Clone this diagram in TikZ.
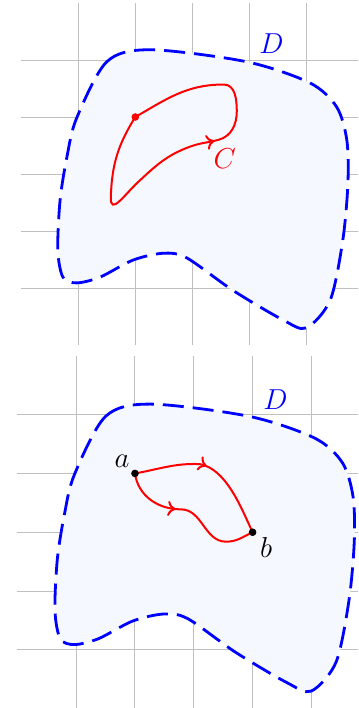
\documentclass[tikz,border=0pt]{standalone}
\usepackage{amsmath}
\usetikzlibrary{arrows.meta,decorations.markings}
\definecolor{regionblue}{RGB}{245,249,255}
\definecolor{gridgray}{RGB}{192,192,192}
\tikzset{
  rejilla/.style={
    gridgray,
    line width=0.5pt
  },
  region/.style={
    blue,
    fill=regionblue,
    line width=1.4pt,
    dash pattern=on 10.5pt off 4.5pt
  },
  curva/.style={
    red,
    line width=1pt
  },
  flecha/.style={
    postaction={decorate},
    decoration={markings,
      mark=at position #1 with {\arrow{To[length=4pt,width=7.5pt]}}}
  },
  punto/.style={
    circle,
    fill,
    inner sep=0pt,
    minimum size=3.8pt
  },
  etiqueta/.style={
    font=\Large,
    inner sep=1pt
  }
}

\begin{document}
\begin{tikzpicture}
\clip (0,0) rectangle (6.281,12.421);
% curva cerrada C
\begin{scope}[shift={(0.374,6.368)}]
\foreach \i in {1,...,5} {
  \draw[rejilla] (\i,0) -- (\i,6);
  \draw[rejilla] (0,\i) -- (6,\i);
}
\draw[region] plot[smooth cycle] coordinates {(0.97,3.98) (1.5,4.97) (2.26,5.18) (3.95,4.97) (5.06,4.6) (5.53,4.18) (5.71,3.6) (5.73,2.84) (5.64,1.84) (5.42,0.79) (5.0,0.3) (4.59,0.44) (3.71,0.96) (2.9,1.53) (2.49,1.61) (1.96,1.49) (1.38,1.19) (0.97,1.09) (0.73,1.19) (0.64,1.67) (0.68,2.54) (0.8,3.3)};
\coordinate (p) at (2,4);
\draw[curva, flecha=0.56] (p) to[out=-122,in=88] (1.57,2.6)
  to[out=-92,in=-137,looseness=1.6] (2.05,2.86)
  to[out=43,in=200] (2.96,3.48)
  to[out=20,in=195] (3.46,3.6)
  to[out=15,in=-90] (3.78,4.1)
  to[out=90,in=0] (3.55,4.57)
  to[out=180,in=30] (p);
\node[punto, red] (pp) at (p) {};
\node[etiqueta, red] (c) at (3.57,3.27) {$C$};
\node[etiqueta, blue] (d1) at (4.39,5.29) {$D$};
\end{scope}
% dos caminos de a a b
\begin{scope}[shift={(0.304,-0.012)}, scale=1.0316]
\foreach \i in {1,...,5} {
  \draw[rejilla] (\i,0) -- (\i,6);
  \draw[rejilla] (0,\i) -- (6,\i);
}
\draw[region] plot[smooth cycle] coordinates {(0.97,3.98) (1.5,4.97) (2.26,5.18) (3.95,4.97) (5.06,4.6) (5.53,4.18) (5.71,3.6) (5.73,2.84) (5.64,1.84) (5.42,0.79) (5.0,0.3) (4.59,0.44) (3.71,0.96) (2.9,1.53) (2.49,1.61) (1.96,1.49) (1.38,1.19) (0.97,1.09) (0.73,1.19) (0.64,1.67) (0.68,2.54) (0.8,3.3)};
\coordinate (a) at (2,4);
\coordinate (b) at (4,3);
\draw[curva, flecha=0.47] (a) to[out=10,in=178] (3.1,4.16)
  to[out=-10,in=115,looseness=0.8] (b);
\draw[curva, flecha=0.39] (a) to[out=-82,in=180] (2.78,3.39)
  to[out=0,in=180] (3.55,2.84)
  to[out=0,in=205] (b);
\node[punto] (pa) at (a) {};
\node[punto] (pb) at (b) {};
\node[etiqueta] (la) at (1.78,4.21) {$a$};
\node[etiqueta] (lb) at (4.23,2.74) {$b$};
\node[etiqueta, blue] (d2) at (4.39,5.26) {$D$};
\end{scope}
\end{tikzpicture}
\end{document}
